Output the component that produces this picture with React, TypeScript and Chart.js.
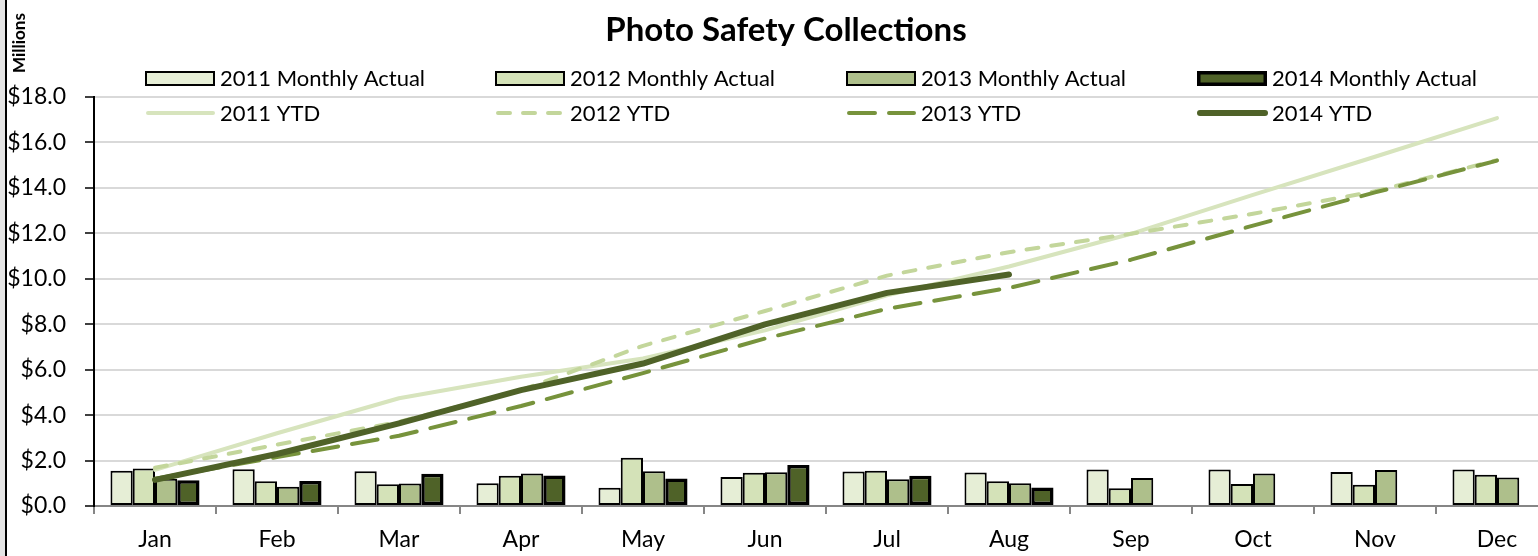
import { useEffect, useRef } from "react";
import { Chart, registerables } from "chart.js";

Chart.register(...registerables);

const titleText = "Photo Safety Collections";
const unitLabel = "Millions";
const months = ["Jan", "Feb", "Mar", "Apr", "May", "Jun", "Jul", "Aug", "Sep", "Oct", "Nov", "Dec"];

const monthly2011 = [1.55, 1.62, 1.53, 1.0, 0.8, 1.28, 1.52, 1.47, 1.61, 1.61, 1.5, 1.61];
const monthly2012 = [1.65, 1.09, 0.96, 1.33, 2.12, 1.46, 1.55, 1.09, 0.78, 0.97, 0.93, 1.38];
const monthly2013 = [1.2, 0.85, 0.99, 1.43, 1.53, 1.49, 1.18, 1.0, 1.23, 1.43, 1.58, 1.25];
const monthly2014 = [1.13, 1.1, 1.42, 1.34, 1.21, 1.8, 1.33, 0.81, null, null, null, null];

const ytd2011 = [1.59, 3.2, 4.74, 5.69, 6.49, 7.73, 9.27, 10.54, 11.98, 13.69, 15.37, 17.07];
const ytd2012 = [1.68, 2.7, 3.7, 5.1, 7.05, 8.58, 10.14, 11.17, 11.98, 12.86, 13.85, 15.22];
const ytd2013 = [1.2, 2.15, 3.09, 4.4, 5.85, 7.37, 8.68, 9.6, 10.84, 12.34, 13.8, 15.2];
const ytd2014 = [1.15, 2.29, 3.64, 5.1, 6.27, 7.99, 9.38, 10.19, null, null, null, null];

const barLabels = ["2011 Monthly Actual", "2012 Monthly Actual", "2013 Monthly Actual", "2014 Monthly Actual"];
const lineLabels = ["2011 YTD", "2012 YTD", "2013 YTD", "2014 YTD"];

const FONT = "Lato, 'Open Sans', sans-serif";

const barColors = ["#e6eed6", "#d4e2b8", "#aebf8b", "#4f6228"];
const barBorderWidths = [2, 2, 2, 3.5];
const lineColors = ["#d7e4bd", "#c3d69b", "#77933c", "#4f6228"];
const lineWidths = [4, 4, 4, 6];
const lineDashes: number[][] = [[], [12, 13], [26, 14], []];

const decorPlugin = {
  id: "decor",
  afterDraw(chart: any) {
    const ctx = chart.ctx as CanvasRenderingContext2D;
    ctx.save();
    ctx.fillStyle = "#000";
    ctx.textBaseline = "middle";
    ctx.textAlign = "center";
    ctx.font = `bold 33px ${FONT}`;
    ctx.fillText(titleText, 786, 30);

    ctx.save();
    ctx.translate(20, 43);
    ctx.rotate(-Math.PI / 2);
    ctx.font = `bold 17px ${FONT}`;
    ctx.fillText(unitLabel, 0, 0);
    ctx.restore();

    const cols = [145, 495, 846, 1197];
    ctx.textAlign = "left";
    ctx.font = `22px ${FONT}`;
    for (let i = 0; i < 4; i++) {
      const x = cols[i];
      ctx.fillStyle = barColors[i];
      const bw = barBorderWidths[i];
      ctx.fillRect(x, 71, 70, 15);
      ctx.lineWidth = bw;
      ctx.strokeStyle = "#000";
      ctx.strokeRect(x + bw / 2, 71 + bw / 2, 70 - bw, 15 - bw);
      ctx.fillStyle = "#000";
      ctx.fillText(barLabels[i], x + 75, 79);
      ctx.save();
      ctx.strokeStyle = lineColors[i];
      ctx.lineWidth = lineWidths[i];
      ctx.lineCap = "round";
      ctx.setLineDash(lineDashes[i]);
      ctx.beginPath();
      ctx.moveTo(x + 3, 113);
      ctx.lineTo(x + 68, 113);
      ctx.stroke();
      ctx.restore();
      ctx.fillStyle = "#000";
      ctx.fillText(lineLabels[i], x + 75, 114);
    }
    ctx.restore();
  },
};

export default function App() {
  const ref = useRef<HTMLCanvasElement>(null);
  useEffect(() => {
    const barSeries = [monthly2011, monthly2012, monthly2013, monthly2014];
    const lineSeries = [ytd2011, ytd2012, ytd2013, ytd2014];
    const datasets: any[] = [];
    barSeries.forEach((d, i) => {
      datasets.push({
        type: "bar",
        label: barLabels[i],
        data: d,
        backgroundColor: barColors[i],
        borderColor: "#000",
        borderWidth: barBorderWidths[i],
        borderSkipped: false,
        barPercentage: 1,
        categoryPercentage: 0.73,
        order: 10,
      });
    });
    lineSeries.forEach((d, i) => {
      datasets.push({
        type: "line",
        label: lineLabels[i],
        data: d,
        borderColor: lineColors[i],
        backgroundColor: lineColors[i],
        borderWidth: lineWidths[i],
        borderDash: lineDashes[i],
        borderCapStyle: "round",
        borderJoinStyle: "round",
        pointRadius: 0,
        tension: 0,
        fill: false,
        spanGaps: false,
        order: 4 - i,
      });
    });
    const chart = new Chart(ref.current!, {
      type: "bar",
      data: { labels: months, datasets },
      options: {
        responsive: false,
        animation: false,
        layout: { padding: { left: 0, right: 12, top: 97, bottom: 0 } },
        plugins: {
          legend: { display: false },
          title: { display: false },
          tooltip: { enabled: false },
        },
        scales: {
          x: {
            offset: true,
            grid: {
              offset: true,
              drawOnChartArea: false,
              drawTicks: true,
              tickLength: 8,
              tickColor: "#868686",
              lineWidth: 2,
            },
            border: { display: true, color: "#868686", width: 2 },
            ticks: {
              color: "#000",
              font: { family: FONT, size: 23 },
              padding: 12,
              maxRotation: 0,
            },
            afterFit: (axis: any) => {
              axis.height = 50;
            },
          },
          y: {
            min: 0,
            max: 18,
            ticks: {
              stepSize: 2,
              color: "#000",
              font: { family: FONT, size: 23 },
              padding: 19,
              callback: (v: any) => "$" + Number(v).toFixed(1),
            },
            grid: {
              color: "#d9d9d9",
              lineWidth: 2,
              tickColor: "#404040",
              tickLength: 9,
              drawTicks: true,
            },
            border: { display: true, color: "#000", width: 2 },
            afterFit: (axis: any) => {
              axis.width = 94;
            },
          },
        },
      },
      plugins: [decorPlugin],
    });
    return () => chart.destroy();
  }, []);

  return (
    <div
      style={{
        position: "fixed",
        left: 0,
        top: 0,
        width: 1538,
        height: 556,
        overflow: "hidden",
        background: "#e4e4e4",
      }}
    >
      <div
        style={{
          position: "absolute",
          left: 5,
          top: -10,
          width: 1600,
          height: 600,
          background: "#fff",
          borderLeft: "2px solid #000",
        }}
      />
      <canvas
        ref={ref}
        width={1570}
        height={556}
        style={{ position: "absolute", left: 0, top: 0, width: 1570, height: 556 }}
      />
    </div>
  );
}
